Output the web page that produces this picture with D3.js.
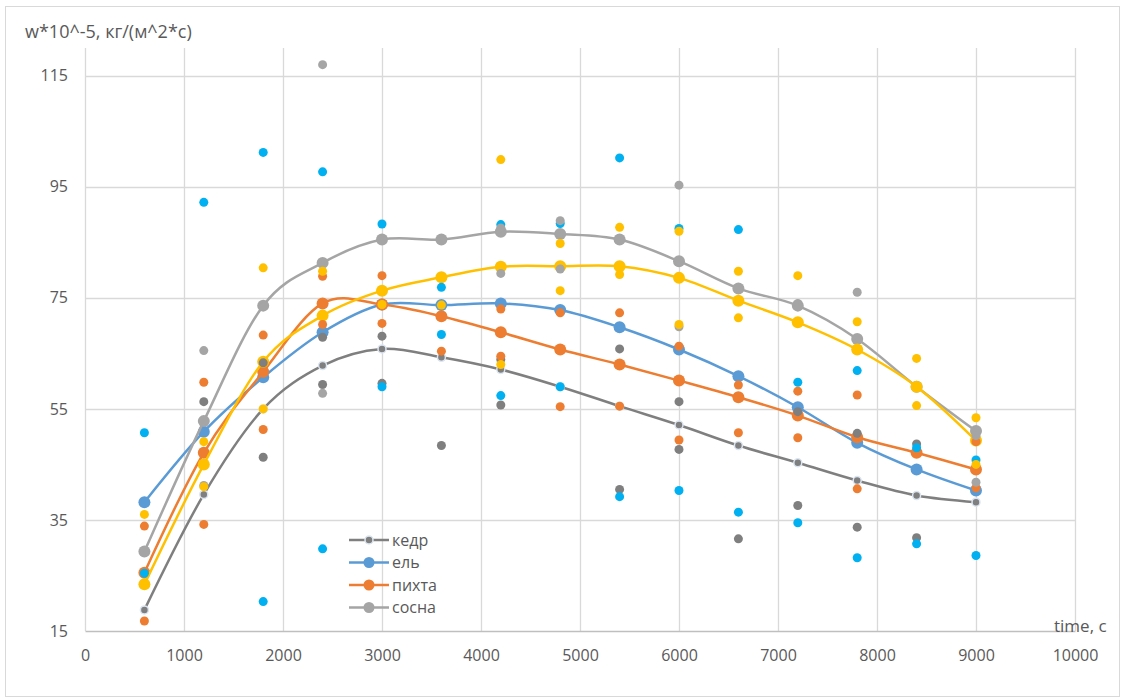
<!DOCTYPE html>
<html>
<head>
<meta charset="utf-8">
<script src="https://cdn.jsdelivr.net/npm/d3@7"></script>
<style>
  html, body { margin: 0; padding: 0; background: #fff; }
  svg { display: block; }
  text { font-family: "Open Sans", "Liberation Sans", Arial, sans-serif; fill: #595959; }
</style>
</head>
<body>
<svg id="chart" width="1125" height="698"></svg>
<script>
// Sampling times, s
const times = [600, 1200, 1800, 2400, 3000, 3600, 4200, 4800, 5400, 6000, 6600, 7200, 7800, 8400, 9000];

// Mean drying rate per species, w*10^-5 kg/(m^2*s)
const kedrMean   = [18.8, 39.6, 55.0, 62.8, 65.8, 64.3, 62.1, 59.0, 55.5, 52.1, 48.4, 45.3, 42.1, 39.4, 38.2];
const elMean     = [38.2, 50.9, 60.7, 68.8, 73.8, 73.7, 74.0, 72.8, 69.7, 65.7, 60.9, 55.3, 48.9, 44.1, 40.3];
const pikhtaMean = [25.5, 47.1, 61.7, 74.0, 73.8, 71.7, 68.8, 65.7, 63.0, 60.1, 57.1, 53.8, 49.9, 47.1, 44.1];
const sosnaMean  = [29.3, 52.8, 73.6, 81.3, 85.5, 85.5, 86.9, 86.5, 85.5, 81.6, 76.7, 73.6, 67.6, 59.0, 51.0];
const yellowMean = [23.4, 45.0, 63.5, 71.8, 76.3, 78.7, 80.6, 80.7, 80.7, 78.6, 74.5, 70.6, 65.7, 59.0, 49.3];

// Individual measurements [time, value]
const kedrRaw = [[1200, 56.3], [1800, 63.3], [1800, 46.3], [2400, 67.9], [2400, 59.4], [3000, 68.1], [3000, 59.6],
  [3600, 48.4], [4200, 63.9], [4200, 55.7], [5400, 65.8], [5400, 40.5], [6000, 56.3], [6000, 47.7], [6600, 31.6],
  [7200, 54.5], [7200, 37.6], [7800, 50.6], [7800, 33.7], [8400, 48.7], [8400, 31.8]];
const elRaw = [[600, 50.7], [600, 25.4], [1200, 92.2], [1800, 101.2], [1800, 20.3], [2400, 97.7], [2400, 29.8],
  [3000, 88.3], [3000, 59.0], [3600, 76.9], [3600, 68.4], [4200, 88.2], [4200, 57.4], [4800, 88.4], [4800, 59.0],
  [5400, 100.2], [5400, 39.2], [6000, 87.5], [6000, 40.3], [6600, 87.3], [6600, 36.4], [7200, 59.8], [7200, 34.5],
  [7800, 61.9], [7800, 28.2], [8400, 48.0], [8400, 30.7], [9000, 45.8], [9000, 28.6]];
const pikhtaRaw = [[600, 33.9], [600, 16.8], [1200, 59.8], [1200, 34.2], [1800, 68.3], [1800, 51.3], [2400, 78.9],
  [2400, 70.2], [3000, 79.0], [3000, 70.4], [3600, 65.4], [4200, 73.0], [4200, 64.5], [4800, 72.3], [4800, 55.4],
  [5400, 72.3], [5400, 55.5], [6000, 66.3], [6000, 49.4], [6600, 59.3], [6600, 50.7], [7200, 58.2], [7200, 49.8],
  [7800, 57.5], [7800, 40.6], [9000, 49.1], [9000, 40.8]];
const sosnaRaw = [[1200, 65.5], [1200, 41.2], [2400, 117.0], [2400, 57.8], [4200, 87.6], [4200, 79.4], [4800, 88.9],
  [4800, 80.2], [6000, 95.3], [6000, 69.8], [7200, 74.0], [7800, 76.0], [9000, 50.2], [9000, 41.8]];
const yellowRaw = [[600, 36.0], [1200, 49.1], [1200, 41.0], [1800, 80.4], [1800, 55.0], [2400, 79.8], [3000, 73.8],
  [3600, 73.7], [4200, 99.9], [4200, 63.0], [4800, 84.8], [4800, 76.3], [5400, 87.7], [5400, 79.2], [6000, 87.0],
  [6000, 70.2], [6600, 79.8], [6600, 71.4], [7200, 79.0], [7800, 70.7], [8400, 64.1], [8400, 55.6], [9000, 53.4],
  [9000, 45.0]];

// Axis ticks and labels
const xTicks = [0, 1000, 2000, 3000, 4000, 5000, 6000, 7000, 8000, 9000, 10000];
const yTicks = [15, 35, 55, 75, 95, 115];
const yTitle = "w*10^-5, кг/(м^2*с)";
const xTitle = "time, с";
const legendNames = ["кедр", "ель", "пихта", "сосна"];

const FONT = "'Open Sans', 'Liberation Sans', Arial, sans-serif";
const svg = d3.select("#chart");
const plot = { left: 85, right: 1075, top: 48, bottom: 631 };

const x = d3.scaleLinear().domain([0, 10000]).range([plot.left, plot.right]);
const y = d3.scaleLinear().domain([15, 120]).range([plot.bottom, plot.top]);

// Outer frame
svg.append("rect").attr("x", 5.5).attr("y", 6.5).attr("width", 1114).attr("height", 690)
  .attr("fill", "#fff").attr("stroke", "#d9d9d9").attr("stroke-width", 1);

// Gridlines
const grid = svg.append("g");
grid.selectAll("line.v").data(xTicks).join("line")
  .attr("x1", d => Math.round(x(d)) + 0.5).attr("x2", d => Math.round(x(d)) + 0.5)
  .attr("y1", plot.top).attr("y2", plot.bottom)
  .attr("stroke", "#d9d9d9").attr("stroke-width", 1.3);
grid.selectAll("line.h").data(yTicks.filter(d => d > 15)).join("line")
  .attr("x1", plot.left).attr("x2", plot.right)
  .attr("y1", d => Math.round(y(d)) + 0.5).attr("y2", d => Math.round(y(d)) + 0.5)
  .attr("stroke", "#d9d9d9").attr("stroke-width", 1.3);

// Axes
const xAxis = svg.append("g").attr("transform", `translate(0,${plot.bottom})`)
  .call(d3.axisBottom(x).tickValues(xTicks).tickSize(0).tickPadding(19).tickFormat(d3.format("d")));
xAxis.select(".domain").attr("stroke", "#bfbfbf").attr("stroke-width", 1.5);
xAxis.selectAll("text").attr("font-size", 16).style("font-family", FONT).attr("fill", "#595959");

const yAxis = svg.append("g").attr("transform", `translate(${plot.left},0)`)
  .call(d3.axisLeft(y).tickValues(yTicks).tickSize(0).tickPadding(17).tickFormat(d3.format("d")));
yAxis.select(".domain").remove();
yAxis.selectAll("text").attr("font-size", 16).style("font-family", FONT).attr("fill", "#595959");

// Axis titles
svg.append("text").attr("x", 25).attr("y", 38).attr("font-size", 18).text(yTitle);
svg.append("text").attr("x", 1054).attr("y", 632).attr("font-size", 17).text(xTitle);

// Smoothed mean curves with markers
const curve = d3.line().x(d => x(d[0])).y(d => y(d[1])).curve(d3.curveCardinal.tension(0));
const series = [
  { name: "кедр", values: kedrMean, color: "#7f7f7f", r: 4, halo: "#dce6f2" },
  { name: "ель", values: elMean, color: "#5b9bd5", r: 6, halo: null },
  { name: "пихта", values: pikhtaMean, color: "#ed7d31", r: 6, halo: null },
  { name: "сосна", values: sosnaMean, color: "#a5a5a5", r: 6, halo: null },
  { name: "", values: yellowMean, color: "#ffc000", r: 6, halo: null }
];

series.forEach(s => {
  const pts = times.map((t, i) => [t, s.values[i]]);
  const g = svg.append("g");
  g.append("path").attr("d", curve(pts)).attr("fill", "none")
    .attr("stroke", s.color).attr("stroke-width", 2.5).attr("stroke-linecap", "round");
  g.selectAll("circle").data(pts).join("circle")
    .attr("cx", d => x(d[0])).attr("cy", d => y(d[1])).attr("r", s.r)
    .attr("fill", s.color)
    .attr("stroke", s.halo || "none").attr("stroke-width", s.halo ? 1.5 : 0);
});

// Individual measurement points
const rawSets = [
  { values: kedrRaw, color: "#7f7f7f" },
  { values: elRaw, color: "#00b0f0" },
  { values: pikhtaRaw, color: "#ed7d31" },
  { values: sosnaRaw, color: "#a5a5a5" },
  { values: yellowRaw, color: "#ffc000" }
];
rawSets.forEach(s => {
  svg.append("g").selectAll("circle").data(s.values).join("circle")
    .attr("cx", d => x(d[0])).attr("cy", d => y(d[1])).attr("r", 4.5)
    .attr("fill", s.color);
});

// Legend
const legend = svg.append("g").attr("transform", "translate(349,540)");
legendNames.forEach((name, i) => {
  const s = series[i];
  const row = legend.append("g").attr("transform", `translate(0,${i * 22.5})`);
  row.append("line").attr("x1", 0).attr("x2", 40).attr("y1", 0).attr("y2", 0)
    .attr("stroke", s.color).attr("stroke-width", 2.5);
  row.append("circle").attr("cx", 20).attr("cy", 0).attr("r", i === 0 ? 4 : 5.5)
    .attr("fill", s.color).attr("stroke", s.halo || "none").attr("stroke-width", s.halo ? 1.5 : 0);
  row.append("text").attr("x", 43).attr("y", 0).attr("dy", "0.35em").attr("font-size", 16).text(name);
});
</script>
</body>
</html>
